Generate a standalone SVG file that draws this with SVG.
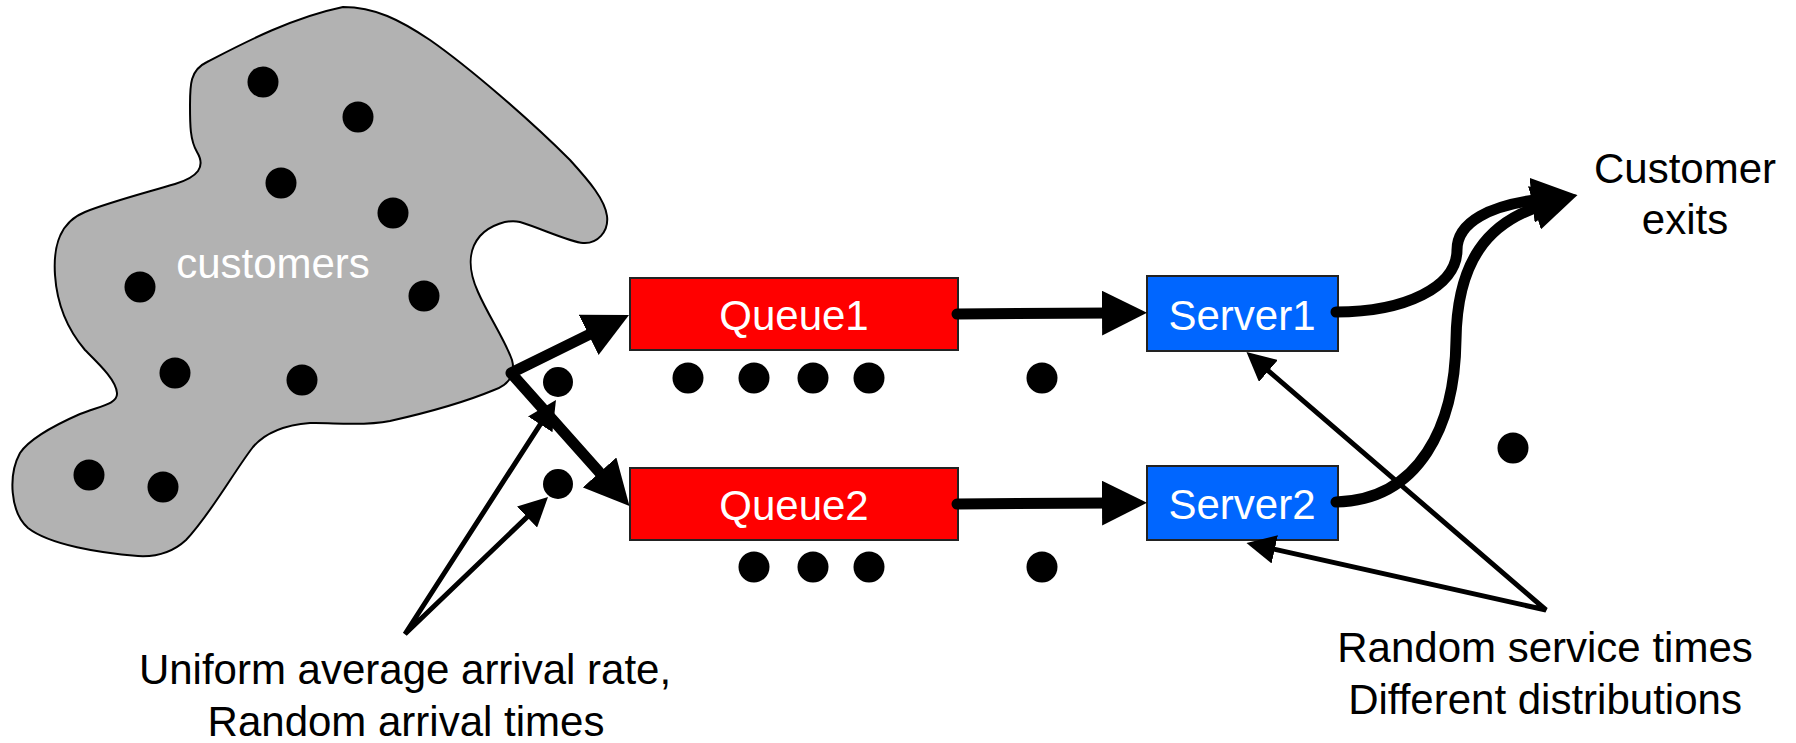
<svg xmlns="http://www.w3.org/2000/svg" width="1796" height="743" viewBox="0 0 1796 743">
<style>
.lbl{font-family:"Liberation Sans",Arial,Helvetica,sans-serif;font-size:42px;text-anchor:middle}
.w{fill:#ffffff}
.k{fill:#000000}
.dot{fill:#000000}
.thick{fill:none;stroke:#000;stroke-width:11;stroke-linecap:round;stroke-linejoin:round}
.thin{fill:none;stroke:#000;stroke-width:5;stroke-linecap:round;stroke-linejoin:miter}
.queue{fill:#ff0000;stroke:#222;stroke-width:2}
.server{fill:#0066ff;stroke:#222;stroke-width:2}
</style>
<defs>
<marker id="big" markerUnits="userSpaceOnUse" markerWidth="45" markerHeight="45" viewBox="0 0 45 45" refX="10" refY="22.5" orient="auto-start-reverse">
<path d="M0,0 L45,22.5 L0,45 Z" fill="#000"/>
</marker>
<marker id="small" markerUnits="userSpaceOnUse" markerWidth="29" markerHeight="29" viewBox="0 0 29 29" refX="6" refY="14.5" orient="auto-start-reverse">
<path d="M0,0 L29,14.5 L0,29 Z" fill="#000"/>
</marker>
</defs>
<rect width="1796" height="743" fill="#ffffff"/>

<g id="customers">
<path d="M343,7 C375,7 400,20 430,40 C470,68 530,120 570,160 C590,182 605,200 607,216 C609,232 597,244 583,243 C570,242 540,228 520,222 C508,219 490,225 480,236 C468,250 468,270 478,292 C488,315 505,340 512,360 C516,375 508,385 494,390 C470,400 430,412 390,421 C360,427 330,422 310,423 C285,425 265,433 253,447 C235,470 210,515 186,540 C172,553 155,557 138,556 C100,553 50,545 28,528 C10,512 8,475 20,453 C30,438 55,425 80,414 C100,406 118,404 117,393 C116,380 100,365 85,350 C68,330 57,305 55,275 C53,245 60,222 85,212 C110,202 145,193 175,184 C198,177 206,167 197,152 C190,140 190,125 190,105 C190,85 190,70 207,62 C240,45 290,18 343,7 Z" fill="#b2b2b2" stroke="#000" stroke-width="2"/>
<text class="lbl w" x="273" y="278">customers</text>
<circle class="dot" cx="263" cy="82" r="15.5"/>
<circle class="dot" cx="358" cy="117" r="15.5"/>
<circle class="dot" cx="281" cy="183" r="15.5"/>
<circle class="dot" cx="393" cy="213" r="15.5"/>
<circle class="dot" cx="140" cy="287" r="15.5"/>
<circle class="dot" cx="424" cy="296" r="15.5"/>
<circle class="dot" cx="175" cy="373" r="15.5"/>
<circle class="dot" cx="302" cy="380" r="15.5"/>
<circle class="dot" cx="89" cy="475" r="15.5"/>
<circle class="dot" cx="163" cy="487" r="15.5"/>
</g>

<g id="queue1">
<rect class="queue" x="630" y="278" width="328" height="72"/>
<text class="lbl w" x="794" y="330">Queue1</text>
</g>
<g id="queue2">
<rect class="queue" x="630" y="468" width="328" height="72"/>
<text class="lbl w" x="794" y="520">Queue2</text>
</g>
<g id="server1">
<rect class="server" x="1147" y="276" width="191" height="75"/>
<text class="lbl w" x="1242" y="330">Server1</text>
</g>
<g id="server2">
<rect class="server" x="1147" y="466" width="191" height="74"/>
<text class="lbl w" x="1242" y="519">Server2</text>
</g>

<g id="waiting-customers">
<circle class="dot" cx="558" cy="382" r="15"/>
<circle class="dot" cx="558" cy="484" r="15"/>
<circle class="dot" cx="688" cy="378" r="15.5"/>
<circle class="dot" cx="754" cy="378" r="15.5"/>
<circle class="dot" cx="813" cy="378" r="15.5"/>
<circle class="dot" cx="869" cy="378" r="15.5"/>
<circle class="dot" cx="1042" cy="378" r="15.5"/>
<circle class="dot" cx="754" cy="567" r="15.5"/>
<circle class="dot" cx="813" cy="567" r="15.5"/>
<circle class="dot" cx="869" cy="567" r="15.5"/>
<circle class="dot" cx="1042" cy="567" r="15.5"/>
<circle class="dot" cx="1513" cy="448" r="15.5"/>
</g>

<g id="connectors">
<path class="thick" d="M597.6,330.4 L511,373 L606.2,479.9" marker-start="url(#big)" marker-end="url(#big)"/>
<path class="thick" d="M957,314 L1112,313" marker-end="url(#big)"/>
<path class="thick" d="M957,504 L1112,503" marker-end="url(#big)"/>
<path class="thick" d="M1336,312 C1405,312 1457,287 1457,250 C1457,222 1490,205 1542,199" marker-end="url(#big)"/>
<path class="thick" d="M1336,502 C1420,500 1455,425 1456,340 C1457,262 1487,222 1544,205" marker-end="url(#big)"/>
<path class="thin" d="M543.5,419.3 L405,634 L531.4,512.9" marker-start="url(#small)" marker-end="url(#small)"/>
<path class="thin" d="M1263.9,367 L1546,610 L1268.9,548" marker-start="url(#small)" marker-end="url(#small)"/>
</g>

<g id="labels">
<text class="lbl k" x="1685" y="183">Customer</text>
<text class="lbl k" x="1685" y="234">exits</text>
<text class="lbl k" x="405" y="684">Uniform average arrival rate,</text>
<text class="lbl k" x="406" y="736">Random arrival times</text>
<text class="lbl k" x="1545" y="662">Random service times</text>
<text class="lbl k" x="1545" y="714">Different distributions</text>
</g>
</svg>
